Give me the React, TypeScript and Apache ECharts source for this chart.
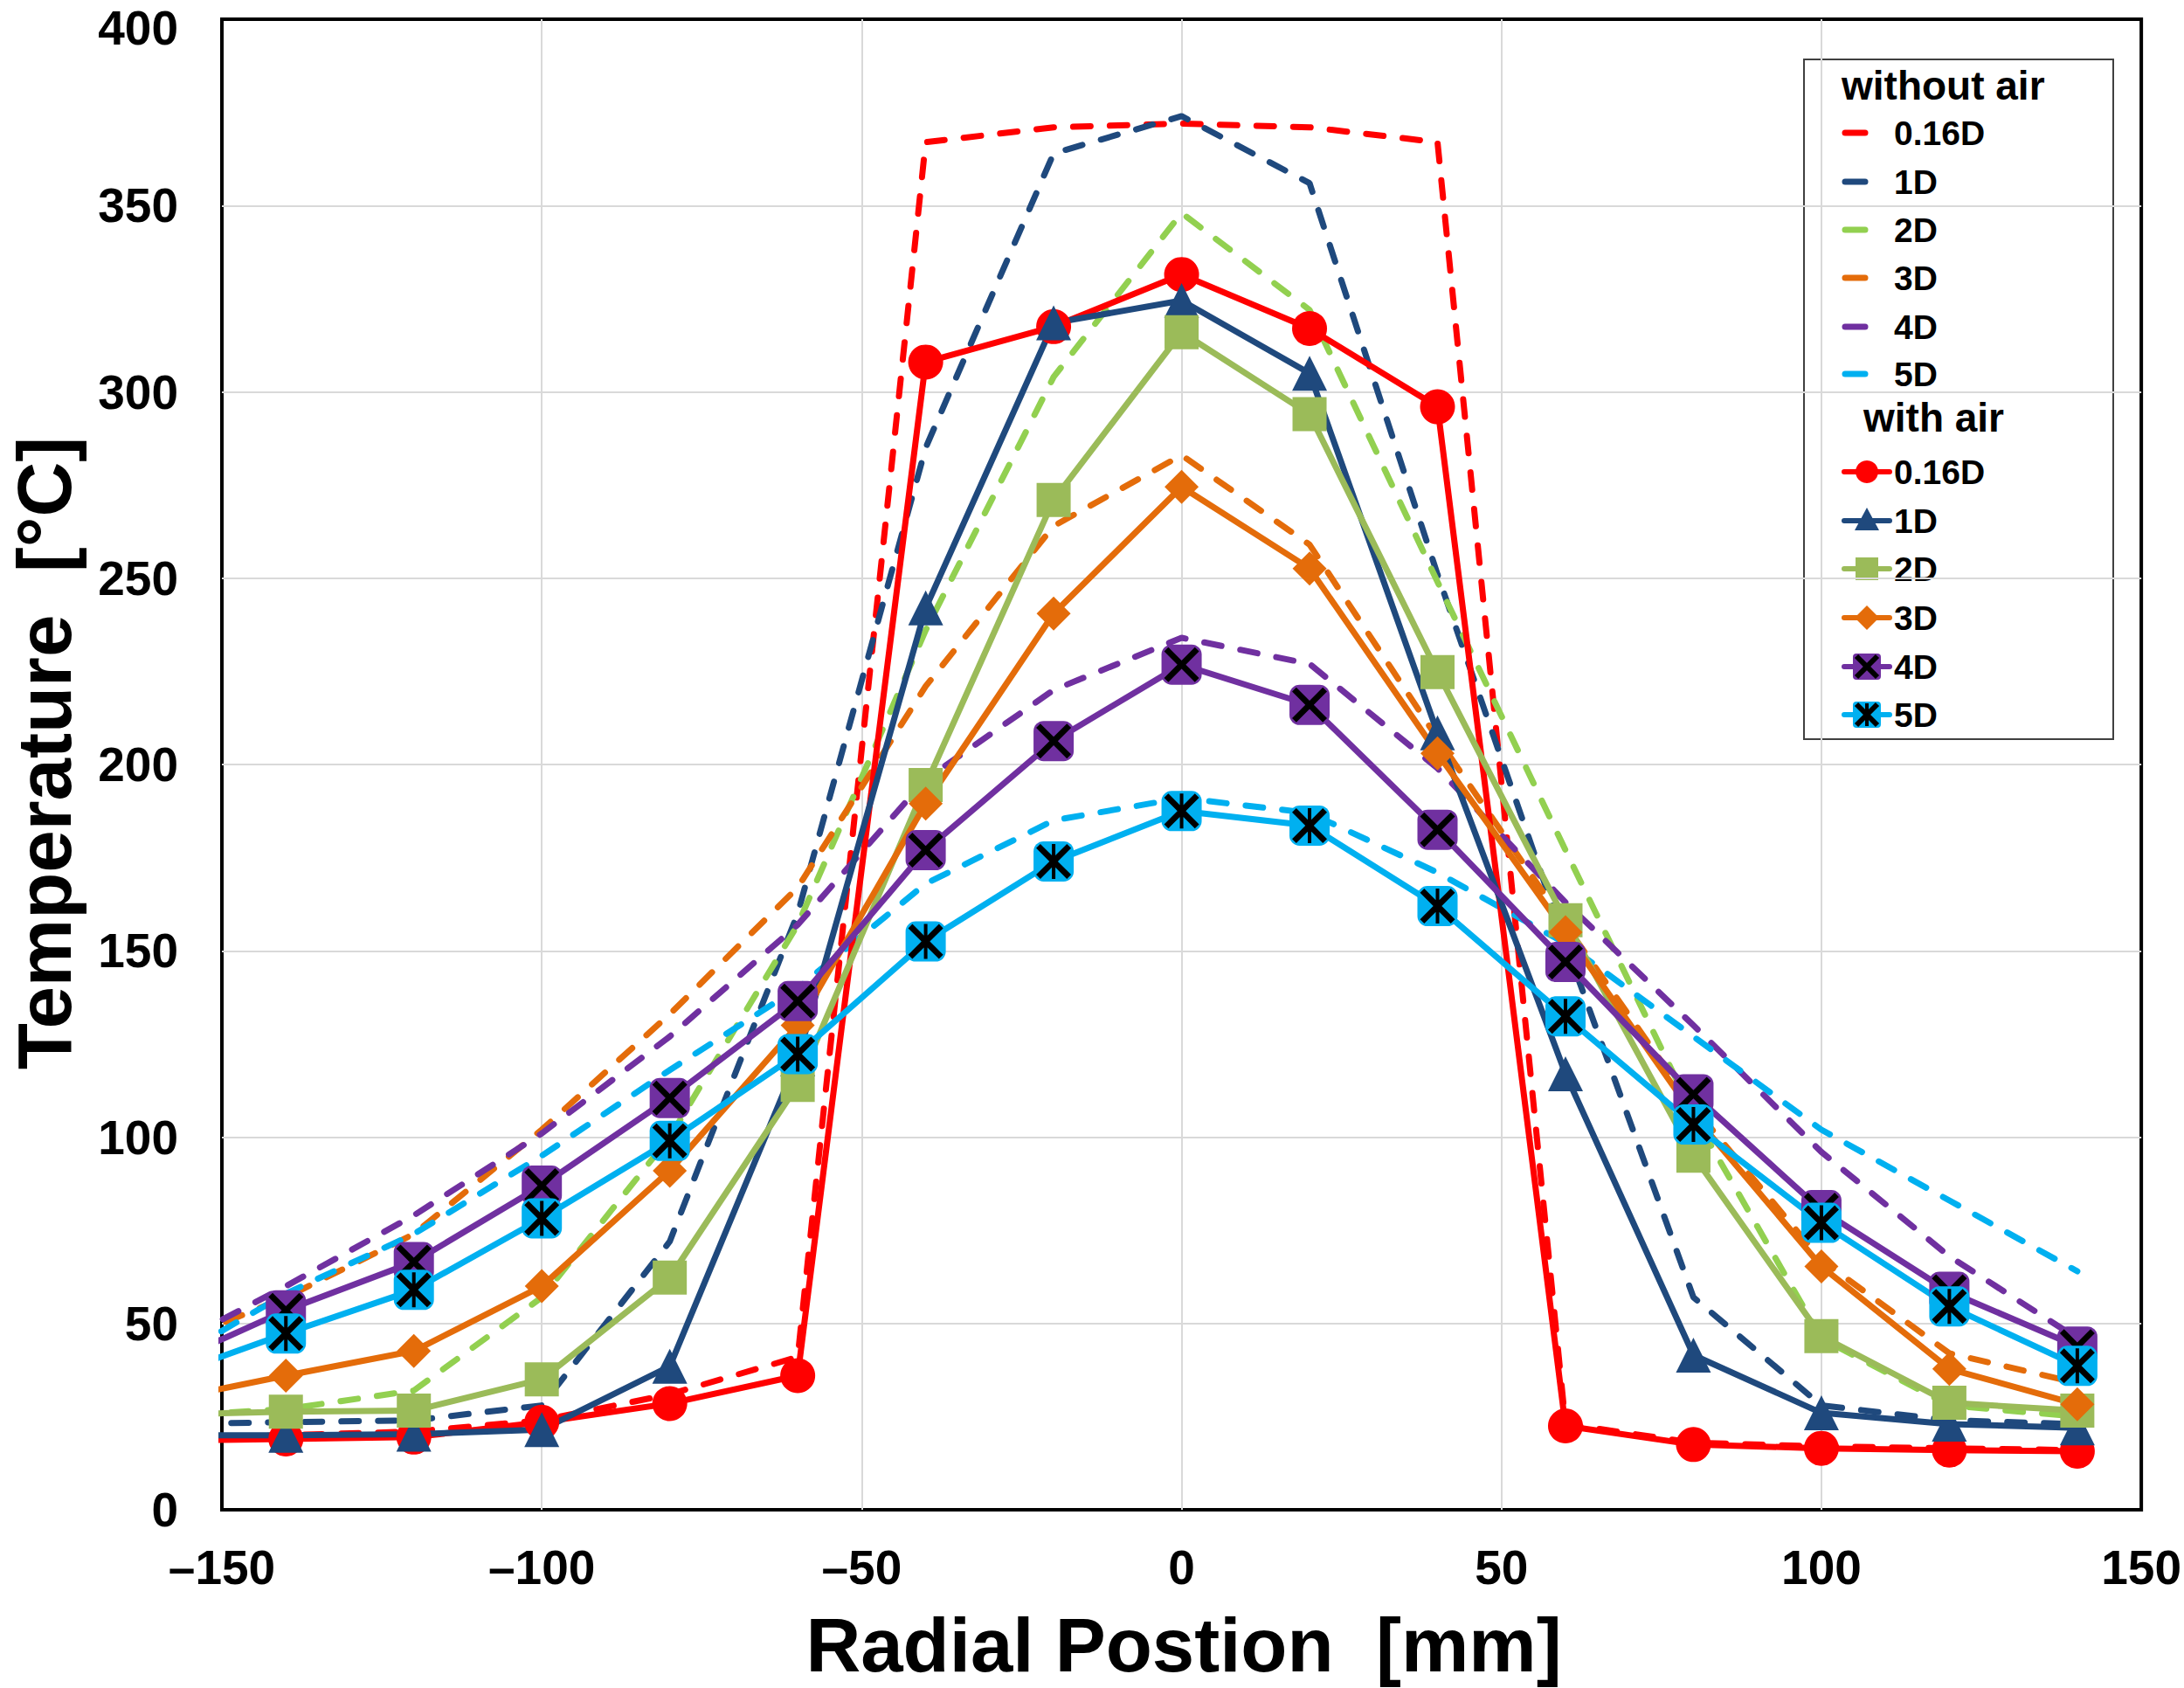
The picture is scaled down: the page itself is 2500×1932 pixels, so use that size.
import React, { useEffect, useRef } from 'react';
import * as echarts from 'echarts';

// radial positions [mm]; the -160 point lies outside the axis and is clipped at -150
const XS = [-160, -140, -120, -100, -80, -60, -40, -20, 0, 20, 40, 60, 80, 100, 120, 140];
const LABELS = ['0.16D', '1D', '2D', '3D', '4D', '5D'];
const X_TICKS = [-150, -100, -50, 0, 50, 100, 150];
const Y_TICKS = [0, 50, 100, 150, 200, 250, 300, 350, 400];

// without air (dashed)
const NOAIR_016 = [19, 20, 21, 24, 31, 41, 367, 371, 372, 371, 367, 23, 18, 17, 16.5, 16];
const NOAIR_1D = [23, 23.5, 24, 28, 72, 160, 285, 364, 374, 356, 251, 152, 57, 28, 24, 23];
const NOAIR_2D = [25, 27, 32, 57, 100, 157, 236, 304, 348, 322, 249, 177, 106, 46, 28, 25];
const NOAIR_3D = [43, 57, 74, 102, 133, 167, 221, 264, 283, 259, 207, 157, 108, 67, 42, 34];
const NOAIR_4D = [42, 60, 79, 101, 127, 157, 196, 220, 234, 227, 199, 163, 130, 96, 68, 46];
const NOAIR_5D = [38, 58, 74, 95, 118, 140, 168, 185, 191, 187, 171, 152, 127, 102, 83, 64];

// with air (solid + markers)
const AIR_016 = [18.5, 19, 19.5, 23.5, 28.5, 36, 308, 317.5, 331.5, 317, 296, 22.5, 17.5, 16.5, 16, 15.7];
const AIR_1D = [20, 20, 20.3, 21.5, 38.5, 121, 242, 318.5, 324.5, 305, 208.5, 117, 41.5, 26, 23, 22];
const AIR_2D = [25.5, 26.3, 26.6, 35, 62.3, 114, 194.5, 271, 316, 294, 224.8, 158.2, 95, 46.6, 28.7, 26.6];
const AIR_3D = [29, 36, 42.6, 60, 91, 130, 189.5, 240.5, 274.5, 252.6, 203, 155, 106, 65.3, 37.8, 28.3];
const AIR_4D = [38, 53.5, 66.5, 87, 110.5, 136.5, 177, 206.3, 226.8, 216, 182.5, 147, 111.5, 80.4, 58.5, 43.8];
const AIR_5D = [35, 47.3, 59, 78.2, 99, 122.3, 152.5, 174, 187.5, 183.6, 162, 132.4, 103.4, 77, 54.6, 38.6];

const NO_AIR = [NOAIR_016, NOAIR_1D, NOAIR_2D, NOAIR_3D, NOAIR_4D, NOAIR_5D];
const AIR = [AIR_016, AIR_1D, AIR_2D, AIR_3D, AIR_4D, AIR_5D];

const DASH_COLORS = ['#FF0000', '#1F497D', '#92D050', '#E46C0A', '#7030A0', '#00B0F0'];
const SOLID_COLORS = ['#FF0000', '#1F497D', '#9BBB59', '#E46C0A', '#7030A0', '#00B0F0'];
const SYMBOLS = ['circle', 'triangle', 'rect', 'diamond', 'roundRect', 'roundRect'];
const SYMBOL_SIZES = [40, 40, 39, 39, 46, 46];

const FONT = '"Liberation Sans", Arial, sans-serif';

const X_PATH = 'path://M0 12L12 0L50 38L88 0L100 12L62 50L100 88L88 100L50 62L12 100L0 88L38 50Z';
const STAR_PATH = X_PATH + 'M45 0L55 0L55 100L45 100Z';

const pairs = (ys: number[]) => XS.map((x, i) => [x, ys[i]]);

const txt = (text: string, x: number, y: number, size: number, extra: any = {}) => ({
  type: 'text',
  x,
  y,
  style: {
    text,
    fontSize: size,
    fontWeight: 'bold',
    fontFamily: FONT,
    fill: '#000',
    align: 'left',
    verticalAlign: 'middle',
    ...extra,
  },
});

function legendMarker(i: number, cx: number, cy: number): any[] {
  const c = SOLID_COLORS[i];
  if (i === 0) return [{ type: 'circle', shape: { cx, cy, r: 13 }, style: { fill: c } }];
  if (i === 1)
    return [{ type: 'polygon', shape: { points: [[cx, cy - 15], [cx + 14, cy + 11], [cx - 14, cy + 11]] }, style: { fill: c } }];
  if (i === 2) return [{ type: 'rect', shape: { x: cx - 13, y: cy - 13, width: 26, height: 26 }, style: { fill: c } }];
  if (i === 3)
    return [{ type: 'polygon', shape: { points: [[cx, cy - 14], [cx + 14, cy], [cx, cy + 14], [cx - 14, cy]] }, style: { fill: c } }];
  const els: any[] = [
    { type: 'rect', shape: { x: cx - 16, y: cy - 15, width: 32, height: 30, r: 4 }, style: { fill: c } },
    { type: 'line', shape: { x1: cx - 12, y1: cy - 12, x2: cx + 12, y2: cy + 12 }, style: { stroke: '#000', lineWidth: 6 } },
    { type: 'line', shape: { x1: cx + 12, y1: cy - 12, x2: cx - 12, y2: cy + 12 }, style: { stroke: '#000', lineWidth: 6 } },
  ];
  if (i === 5) els.push({ type: 'line', shape: { x1: cx, y1: cy - 13, x2: cx, y2: cy + 13 }, style: { stroke: '#000', lineWidth: 4 } });
  return els;
}

function buildLegend(): any {
  const children: any[] = [
    { type: 'rect', shape: { x: 2065, y: 68, width: 354, height: 778 }, style: { fill: '#fff', stroke: '#404040', lineWidth: 2 } },
    txt('without air', 2108, 98, 46),
    txt('with air', 2133, 478, 46),
  ];
  const rowsNo = [152, 208, 263, 318, 374, 428];
  const rowsAir = [540, 596, 651, 707, 763, 818];
  LABELS.forEach((lab, i) => {
    const y1 = rowsNo[i];
    children.push({
      type: 'line',
      shape: { x1: 2112, y1, x2: 2135, y2: y1 },
      style: { stroke: DASH_COLORS[i], lineWidth: 7, lineCap: 'round' },
    });
    children.push(txt(lab, 2168, y1, 39));
    const y2 = rowsAir[i];
    children.push({
      type: 'line',
      shape: { x1: 2111, y1: y2, x2: 2163, y2 },
      style: { stroke: SOLID_COLORS[i], lineWidth: 6, lineCap: 'round' },
    });
    children.push(...legendMarker(i, 2137, y2));
    children.push(txt(lab, 2168, y2, 39));
  });
  return { type: 'group', z: 100, children };
}

const App: React.FC = () => {
  const chartRef = useRef<HTMLDivElement | null>(null);

  useEffect(() => {
    if (!chartRef.current) return;
    const chart = echarts.init(chartRef.current, undefined, { renderer: 'svg' });

    const dashed = NO_AIR.map((ys, i) => ({
      name: LABELS[i] + ' without air',
      type: 'line',
      data: pairs(ys),
      symbol: 'none',
      silent: true,
      clip: true,
      lineStyle: { color: DASH_COLORS[i], width: 7, type: [20, 22], cap: 'round' },
    }));

    const solid: any[] = [];
    AIR.forEach((ys, i) => {
      solid.push({
        name: LABELS[i] + ' with air',
        type: 'line',
        data: pairs(ys),
        symbol: SYMBOLS[i],
        symbolSize: SYMBOL_SIZES[i],
        silent: true,
        clip: true,
        lineStyle: { color: SOLID_COLORS[i], width: 7 },
        itemStyle: { color: SOLID_COLORS[i], borderWidth: 0 },
      });
      if (i >= 4) {
        solid.push({
          name: LABELS[i] + ' with air marks',
          type: 'line',
          data: pairs(ys),
          symbol: i === 4 ? X_PATH : STAR_PATH,
          symbolSize: 40,
          silent: true,
          clip: true,
          lineStyle: { width: 0, opacity: 0 },
          itemStyle: { color: '#000', borderWidth: 0 },
        });
      }
    });

    const yMax = Y_TICKS[Y_TICKS.length - 1];

    const option: any = {
      animation: false,
      backgroundColor: '#fff',
      grid: {
        left: 254,
        right: 45,
        top: 22,
        bottom: 204,
        show: true,
        borderColor: '#000',
        borderWidth: 4,
        backgroundColor: 'transparent',
      },
      xAxis: {
        type: 'value',
        min: X_TICKS[0],
        max: X_TICKS[X_TICKS.length - 1],
        interval: 50,
        axisLine: { show: false },
        axisTick: { show: false },
        axisLabel: {
          fontSize: 55,
          fontWeight: 'bold',
          fontFamily: FONT,
          color: '#000',
          margin: 38,
          formatter: (v: number) => (v < 0 ? '\u2013' + Math.abs(v) : String(v)),
        },
        splitLine: { show: true, showMinLine: false, showMaxLine: false, lineStyle: { color: '#D9D9D9', width: 2 } },
      },
      yAxis: {
        type: 'value',
        min: Y_TICKS[0],
        max: yMax,
        interval: 50,
        axisLine: { show: false },
        axisTick: { show: false },
        axisLabel: {
          fontSize: 55,
          fontWeight: 'bold',
          fontFamily: FONT,
          color: '#000',
          margin: 50,
          showMaxLabel: false,
        },
        splitLine: { show: true, showMinLine: false, showMaxLine: false, lineStyle: { color: '#D9D9D9', width: 2 } },
      },
      graphic: [
        // top tick label drawn by hand, nudged down so it stays inside the page
        txt(String(yMax), 204, 32, 55, { align: 'right' }),
        txt('Radial Postion  [mm]', 1355, 1882, 87, { align: 'center' }),
        { ...txt('Temperature  [°C]', 50, 862, 87, { align: 'center' }), rotation: Math.PI / 2 },
        buildLegend(),
      ],
      series: [...dashed, ...solid],
    };

    chart.setOption(option);

    return () => {
      chart.dispose();
    };
  }, []);

  return (
    <div
      ref={chartRef}
      style={{ position: 'absolute', left: 0, top: 0, width: 2500, height: 1932, background: '#fff' }}
    ></div>
  );
};

export default App;
